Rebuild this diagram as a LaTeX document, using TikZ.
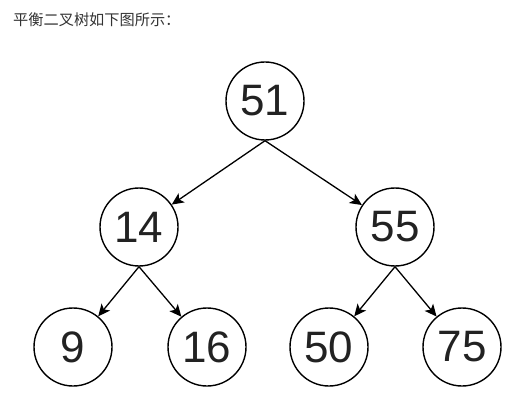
\documentclass[tikz,border=0pt]{standalone}
\usepackage{fontspec}
\setmainfont{Liberation Sans}
\newfontfamily\cjkfont{Noto Sans CJK SC}
\usetikzlibrary{arrows.meta}
\definecolor{inkgray}{HTML}{222222}
\definecolor{captgray}{HTML}{333333}

\begin{document}
\begin{tikzpicture}[x=1pt, y=-1pt,
    treenode/.style={circle, draw, line width=1.4pt, minimum size=78pt, inner sep=0pt,
      font=\fontsize{44}{44}\selectfont, text=inkgray},
    treeedge/.style={line width=1.3pt, -{Stealth[length=12pt, width=11pt, inset=3pt]}}]
        \useasboundingbox (0,0) rectangle (518,411);
        \node[anchor=west, inner sep=0pt, font=\cjkfont\fontsize{15.2}{15.2}\selectfont, text=captgray] (capt) at (13, 20) {平衡二叉树如下图所示：};
        \foreach \nm/\xx/\yy/\val in
            {n51/265/101/51, n14/139/227/14, n55/395/227/55,
             n9/73/347/9, n16/207/347/16, n50/329/347/50, n75/462/347/75} {
          \node[treenode] (\nm) at (\xx, \yy) {\val};
        }
        \foreach \pp/\cc in {n51/n14, n51/n55, n14/n9, n14/n16, n55/n50, n55/n75} {
          \draw[treeedge] (\pp.south) -- (\cc);
        }
      \end{tikzpicture}
\end{document}
